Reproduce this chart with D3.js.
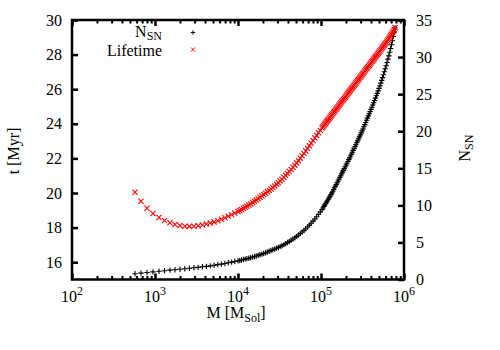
<!DOCTYPE html>
<html><head><meta charset="utf-8">
<script src="https://cdn.jsdelivr.net/npm/d3@7"></script>
<style>body{margin:0;background:#fff}svg{display:block}</style>
</head><body><svg id="c" width="500" height="350"></svg>
<script>
// ---- data ----
const mass = [
 574,678,801,946,1117,1302,1516,1741,2001,2286,2597,2942,3315,3725,4162,4637,5153,5710,6310,6954,7642,8374,9151,10000,
 10500,11000,11600,12200,12800,13500,14200,15000,15800,16600,17500,18400,19400,20400,21500,22600,23800,25000,26300,27700,
 29100,30600,32200,33900,35700,37500,39500,41500,43700,46000,48400,50900,53500,56300,59200,62300,65500,68900,72500,76200,
 80200,84300,88700,93300,98100,
 103000,105600,108200,110900,113700,116500,119400,122400,125500,128600,131800,135100,138500,142000,145500,149200,152900,
 156700,160700,164700,168800,173000,177300,181800,186300,191000,195800,200700,205700,210800,216100,221500,227000,232700,
 238500,244500,250600,256900,263300,269900,276600,283500,290600,297900,305300,313000,320800,328800,337000,345500,354100,
 363000,372000,381300,390900,400600,410700,420900,431500,442200,453300,464600,476200,488100,500400,512900,525700,538800,
 552300,566100,580300,594800,609700,624900,640500,656500,672900,689800,707000,724700,742800,761400,780400
];
const lifetime = [
 20.04,19.52,19.12,18.82,18.58,18.41,18.28,18.18,18.12,18.08,18.07,18.08,18.11,18.15,18.21,18.26,18.33,18.40,18.48,18.57,18.65,18.75,18.84,18.93,
 18.99,19.05,19.11,19.17,19.23,19.30,19.37,19.45,19.52,19.59,19.67,19.75,19.83,19.91,19.99,20.07,20.15,20.23,20.32,20.41,
 20.50,20.59,20.69,20.80,20.91,21.02,21.13,21.24,21.36,21.49,21.61,21.74,21.87,22.01,22.15,22.29,22.43,22.58,22.73,22.88,
 23.03,23.18,23.33,23.48,23.62,
 23.76,23.83,23.90,23.97,24.03,24.10,24.17,24.24,24.31,24.38,24.45,24.51,24.58,24.65,24.72,24.79,24.86,
 24.92,24.99,25.06,25.13,25.20,25.27,25.34,25.40,25.47,25.54,25.61,25.68,25.75,25.82,25.88,25.95,26.02,
 26.09,26.16,26.23,26.29,26.36,26.43,26.50,26.57,26.64,26.71,26.77,26.84,26.91,26.98,27.05,27.12,27.19,
 27.25,27.32,27.39,27.46,27.53,27.60,27.66,27.73,27.80,27.87,27.94,28.01,28.08,28.14,28.21,28.28,28.35,
 28.42,28.49,28.56,28.63,28.70,28.77,28.85,28.93,29.01,29.09,29.17,29.26,29.35,29.45,29.55
];
const nSN = [
 0.78,0.86,0.95,1.03,1.11,1.18,1.26,1.32,1.39,1.45,1.52,1.58,1.64,1.71,1.77,1.84,1.92,2.00,2.08,2.16,2.25,2.34,2.43,2.51,
 2.57,2.63,2.69,2.75,2.81,2.87,2.94,3.02,3.10,3.17,3.25,3.33,3.42,3.51,3.61,3.71,3.81,3.91,4.01,4.11,
 4.21,4.31,4.43,4.56,4.70,4.84,4.99,5.13,5.29,5.46,5.63,5.81,6.00,6.20,6.40,6.61,6.84,7.08,7.33,7.59,
 7.88,8.16,8.46,8.79,9.12,
 9.44,9.64,9.84,10.03,10.23,10.43,10.62,10.82,11.02,11.22,11.45,11.68,11.91,12.14,12.37,12.59,12.82,
 13.05,13.29,13.53,13.77,14.00,14.24,14.48,14.72,14.96,15.20,15.44,15.68,15.92,16.17,16.41,16.66,16.91,
 17.17,17.42,17.68,17.93,18.18,18.44,18.70,18.97,19.24,19.50,19.77,20.04,20.30,20.60,20.89,21.18,21.48,
 21.77,22.07,22.36,22.64,22.94,23.24,23.53,23.84,24.15,24.46,24.78,25.10,25.44,25.78,26.12,26.49,26.86,
 27.23,27.62,28.02,28.42,28.83,29.27,29.72,30.16,30.65,31.15,31.66,32.20,32.78,33.36,33.93
];
const massTicks = [1e2, 1e3, 1e4, 1e5, 1e6];
const tTicks = [16, 18, 20, 22, 24, 26, 28, 30];
const nTicks = [0, 5, 10, 15, 20, 25, 30, 35];
const seriesNames = ["N", "Lifetime"];

// ---- drawing ----
const FONT = '"Liberation Serif","Times New Roman",serif';
const svg = d3.select("#c");
const L = 72, R = 404, T = 20, B = 279.5;
const x = d3.scaleLog().domain([1e2, 1e6]).range([L, R]);
const yT = d3.scaleLinear().domain([15, 30]).range([B, T]);
const yN = d3.scaleLinear().domain([0, 35]).range([B, T]);

const minorX = x.ticks().filter(v => !massTicks.includes(v));

function style(g, sw) {
  g.select(".domain").remove();
  g.selectAll(".tick line").attr("stroke", "#000").attr("stroke-width", sw);
  g.attr("font-family", FONT).attr("font-size", 16);
}
svg.append("g").attr("transform", `translate(0,${B})`)
  .call(d3.axisBottom(x).tickValues(minorX).tickSize(-3.5).tickFormat(""))
  .call(g => style(g, 2));
svg.append("g").attr("transform", `translate(0,${T})`)
  .call(d3.axisTop(x).tickValues(minorX).tickSize(-3.5).tickFormat(""))
  .call(g => style(g, 2));
svg.append("g").attr("transform", `translate(0,${B})`)
  .call(d3.axisBottom(x).tickValues(massTicks).tickSize(-6).tickFormat(""))
  .call(g => style(g, 2.5));
svg.append("g").attr("transform", `translate(0,${T})`)
  .call(d3.axisTop(x).tickValues(massTicks).tickSize(-6).tickFormat(""))
  .call(g => style(g, 2.5));
svg.append("g").attr("transform", `translate(${L},0)`)
  .call(d3.axisLeft(yT).tickValues(tTicks).tickSizeInner(-6).tickSizeOuter(0).tickPadding(10))
  .call(g => style(g, 2.5));
svg.append("g").attr("transform", `translate(${R},0)`)
  .call(d3.axisRight(yN).tickValues(nTicks).tickSizeInner(-6).tickSizeOuter(0).tickPadding(12))
  .call(g => style(g, 2.5));

const xl = svg.append("g").attr("font-family", FONT).attr("font-size", 16).attr("fill", "#000");
massTicks.forEach(v => {
  const t = xl.append("text").attr("x", x(v)).attr("y", 301.5).attr("text-anchor", "middle");
  t.append("tspan").text("10");
  t.append("tspan").attr("font-size", 12).attr("dy", -7).text(String(Math.round(Math.log10(v))));
});

svg.append("rect").attr("x", L).attr("y", T).attr("width", R - L).attr("height", B - T)
  .attr("fill", "none").attr("stroke", "#000").attr("stroke-width", 2.5);

const xt = svg.append("text").attr("x", 236).attr("y", 318).attr("text-anchor", "middle")
  .attr("font-family", FONT).attr("font-size", 16);
xt.append("tspan").text("M [M");
xt.append("tspan").attr("font-size", 12).attr("dy", 4).text("Sol");
xt.append("tspan").attr("dy", -4).text("]");

svg.append("text").attr("transform", "translate(19,151) rotate(-90)").attr("text-anchor", "middle")
  .attr("font-family", FONT).attr("font-size", 16).text("t [Myr]");

const yt2 = svg.append("text").attr("transform", "translate(470,148) rotate(-90)").attr("text-anchor", "middle")
  .attr("font-family", FONT).attr("font-size", 16);
yt2.append("tspan").text("N");
yt2.append("tspan").attr("font-size", 12).attr("dy", 3).text("SN");

// markers
const plus = h => `M${-h},0H${h}M0,${-h}V${h}`;
const cross = h => `M${-h},${-h}L${h},${h}M${-h},${h}L${h},${-h}`;
const n = Math.min(mass.length, lifetime.length, nSN.length);
const idx = d3.range(n);

svg.append("g").attr("fill", "none").attr("stroke", "#000").attr("stroke-width", 1.1)
  .selectAll("path").data(idx).join("path")
  .attr("transform", i => `translate(${x(mass[i])},${yN(nSN[i])})`).attr("d", plus(2.7));
svg.append("g").attr("fill", "none").attr("stroke", "#ff0000").attr("stroke-width", 1.1)
  .selectAll("path").data(idx).join("path")
  .attr("transform", i => `translate(${x(mass[i])},${yT(lifetime[i])})`).attr("d", cross(2.6));

// legend
const lg = svg.append("g").attr("font-family", FONT).attr("font-size", 16);
const l1 = lg.append("text").attr("x", 162).attr("y", 37).attr("text-anchor", "end");
l1.append("tspan").text(seriesNames[0]);
l1.append("tspan").attr("font-size", 12).attr("dy", 3).text("SN");
lg.append("text").attr("x", 162).attr("y", 55.5).attr("text-anchor", "end").text(seriesNames[1]);
lg.append("path").attr("transform", "translate(193,32.5)").attr("d", plus(2.2))
  .attr("stroke", "#000").attr("fill", "none");
lg.append("path").attr("transform", "translate(193,49.5)").attr("d", cross(2))
  .attr("stroke", "#ff0000").attr("fill", "none");
</script></body></html>
